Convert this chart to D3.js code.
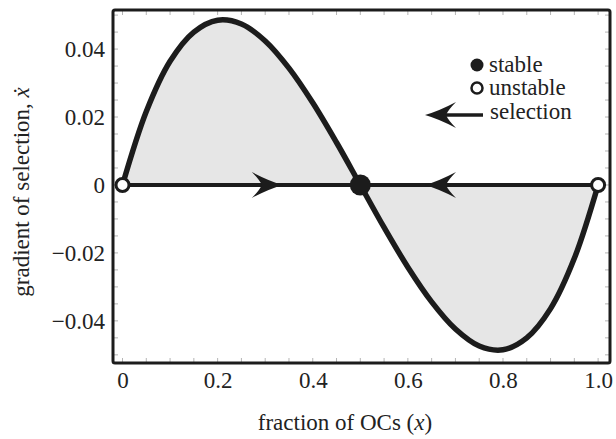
<!DOCTYPE html>
<html><head><meta charset="utf-8">
<script src="https://cdn.jsdelivr.net/npm/d3@7"></script>
<style>body{margin:0;background:#fff}svg{display:block}</style>
</head><body><svg id="c" width="616" height="439"></svg>
<script>
const xs = [0,0.05,0.1,0.15,0.2,0.25,0.3,0.35,0.4,0.45,0.5,0.55,0.6,0.65,0.7,0.75,0.8,0.85,0.9,0.95,1];
const grad = [0,0.0216,0.0364,0.045,0.0485,0.0474,0.0424,0.0344,0.0242,0.0125,0,-0.0125,-0.0242,-0.0344,-0.0424,-0.0474,-0.0485,-0.045,-0.0364,-0.0216,0];
const xTicks = [0,0.2,0.4,0.6,0.8,1.0];
const xTickLabels = ["0","0.2","0.4","0.6","0.8","1.0"];
const yTicks = [-0.04,-0.02,0,0.02,0.04];
const yTickLabels = ["\u22120.04","\u22120.02","0","0.02","0.04"];
const stablePts = [0.5];
const unstablePts = [0,1];
const arrowsRight = [0.337];
const arrowsLeft = [0.636];
const legendLabels = ["stable","unstable","selection"];

const FONT = '"Liberation Serif"';
const INK = "#1c1c1c";
const svg = d3.select("#c");
const L=113, R=610, T=10, B=363;
const x = d3.scaleLinear().domain([-0.02,1.025]).range([L,R]);
const y = d3.scaleLinear().domain([-0.0524,0.0515]).range([B,T]);
const data = xs.map((v,i)=>({x:v,y:grad[i]}));
function txt(sel){ return sel.style("font-family",FONT).style("font-size","23px").attr("fill","#222"); }

// minor ticks
const g = svg.append("g").attr("stroke","#b5b5b5").attr("stroke-width",1);
const xm = d3.range(0,1.0001,0.05), ym = d3.range(-0.05,0.0501,0.005);
xm.forEach(v=>{
  g.append("line").attr("x1",x(v)).attr("x2",x(v)).attr("y1",B).attr("y2",B-5);
  g.append("line").attr("x1",x(v)).attr("x2",x(v)).attr("y1",T).attr("y2",T+5);
});
ym.forEach(v=>{
  g.append("line").attr("x1",L).attr("x2",L+5).attr("y1",y(v)).attr("y2",y(v));
  g.append("line").attr("x1",R).attr("x2",R-5).attr("y1",y(v)).attr("y2",y(v));
});

// fill area
svg.append("path").datum(data)
  .attr("d", d3.area().x(d=>x(d.x)).y0(y(0)).y1(d=>y(d.y)).curve(d3.curveCatmullRom))
  .attr("fill","#e6e6e6");
// zero line
svg.append("line").attr("x1",x(0)).attr("x2",x(1)).attr("y1",y(0)).attr("y2",y(0))
  .attr("stroke",INK).attr("stroke-width",4);
// curve
svg.append("path").datum(data)
  .attr("d", d3.line().x(d=>x(d.x)).y(d=>y(d.y)).curve(d3.curveCatmullRom))
  .attr("fill","none").attr("stroke",INK).attr("stroke-width",5.5).attr("stroke-linecap","round");

const head = "M0,0 Q-14,-4 -31,-13 Q-23,-5 -21,0 Q-23,5 -31,13 Q-14,4 0,0Z";
arrowsRight.forEach(v=>svg.append("path").attr("d",head).attr("fill",INK).attr("transform",`translate(${x(v)},${y(0)})`));
arrowsLeft.forEach(v=>svg.append("path").attr("d",head).attr("fill",INK).attr("transform",`translate(${x(v)},${y(0)}) scale(-1,1)`));

stablePts.forEach(v=>svg.append("circle").attr("cx",x(v)).attr("cy",y(0)).attr("r",10.5).attr("fill",INK));
unstablePts.forEach(v=>svg.append("circle").attr("cx",x(v)).attr("cy",y(0)).attr("r",6.5).attr("fill","#fff").attr("stroke",INK).attr("stroke-width",3));

// frame
svg.append("rect").attr("x",L).attr("y",T).attr("width",R-L).attr("height",B-T).attr("rx",2)
  .attr("fill","none").attr("stroke",INK).attr("stroke-width",3);

// axes labels
const xa = d3.axisBottom(x).tickValues(xTicks).tickFormat((d,i)=>xTickLabels[i]).tickSize(0).tickPadding(0);
const gx = svg.append("g").attr("transform",`translate(0,${B})`).call(xa);
gx.select(".domain").remove();
txt(gx.selectAll("text")).attr("dy",null).attr("y",25);
const ya = d3.axisLeft(y).tickValues(yTicks).tickFormat((d,i)=>yTickLabels[i]).tickSize(0).tickPadding(0);
const gy = svg.append("g").attr("transform",`translate(${L-8},0)`).call(ya);
gy.select(".domain").remove();
txt(gy.selectAll("text")).attr("dy","0.33em");

const xl = txt(svg.append("text")).attr("x",345).attr("y",430).attr("text-anchor","middle");
xl.append("tspan").text("fraction of OCs (");
xl.append("tspan").style("font-style","italic").text("x");
xl.append("tspan").text(")");
const yl = txt(svg.append("text")).attr("transform","translate(29,192) rotate(-90)").attr("text-anchor","middle");
yl.append("tspan").text("gradient of selection, ");
yl.append("tspan").style("font-style","italic").text("\u1E8B");

// legend
svg.append("circle").attr("cx",477).attr("cy",65).attr("r",6.5).attr("fill",INK);
txt(svg.append("text")).attr("x",489).attr("y",72).text(legendLabels[0]);
svg.append("circle").attr("cx",477).attr("cy",88).attr("r",5.5).attr("fill","#fff").attr("stroke",INK).attr("stroke-width",2.5);
txt(svg.append("text")).attr("x",489).attr("y",95).text(legendLabels[1]);
svg.append("line").attr("x1",445).attr("x2",483).attr("y1",115).attr("y2",115).attr("stroke",INK).attr("stroke-width",3.5);
svg.append("path").attr("d",head).attr("fill",INK).attr("transform","translate(425,115) scale(-1,1)");
txt(svg.append("text")).attr("x",490).attr("y",119).text(legendLabels[2]);
</script></body></html>
